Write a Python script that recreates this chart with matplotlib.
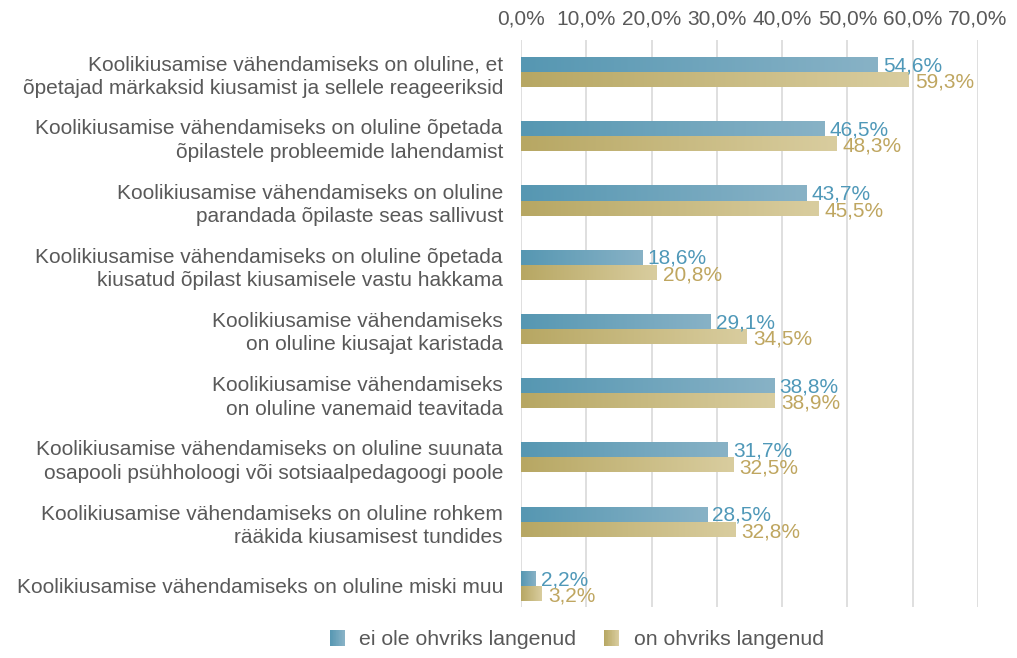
import numpy as np
import matplotlib
matplotlib.use("Agg")
import matplotlib.pyplot as plt
from matplotlib.colors import LinearSegmentedColormap
from matplotlib.patches import Rectangle
from matplotlib.legend_handler import HandlerBase

plt.rcParams['font.family'] = ['Liberation Sans', 'DejaVu Sans']

categories = [
    "Koolikiusamise vähendamiseks on oluline, et\nõpetajad märkaksid kiusamist ja sellele reageeriksid",
    "Koolikiusamise vähendamiseks on oluline õpetada\nõpilastele probleemide lahendamist",
    "Koolikiusamise vähendamiseks on oluline\nparandada õpilaste seas sallivust",
    "Koolikiusamise vähendamiseks on oluline õpetada\nkiusatud õpilast kiusamisele vastu hakkama",
    "Koolikiusamise vähendamiseks\non oluline kiusajat karistada",
    "Koolikiusamise vähendamiseks\non oluline vanemaid teavitada",
    "Koolikiusamise vähendamiseks on oluline suunata\nosapooli psühholoogi või sotsiaalpedagoogi poole",
    "Koolikiusamise vähendamiseks on oluline rohkem\nrääkida kiusamisest tundides",
    "Koolikiusamise vähendamiseks on oluline miski muu",
]
not_victim = [54.6, 46.5, 43.7, 18.6, 29.1, 38.8, 31.7, 28.5, 2.2]
victim = [59.3, 48.3, 45.5, 20.8, 34.5, 38.9, 32.5, 32.8, 3.2]
series_names = ["ei ole ohvriks langenud", "on ohvriks langenud"]
xticks = [0, 10, 20, 30, 40, 50, 60, 70]

blue_cmap = LinearSegmentedColormap.from_list("blue", ["#5697b2", "#88b2c6"])
gold_cmap = LinearSegmentedColormap.from_list("gold", ["#b7a763", "#d9cd9f"])
blue_text = "#4f98b8"
gold_text = "#bfa660"
text_col = "#595959"
FS = 15

fig = plt.figure(figsize=(10.17, 6.58), dpi=100)
ax = fig.add_axes([0.5123, 0.0775, 0.4494, 0.8617])

y = np.arange(len(categories))
h = 0.235
grad = np.linspace(0, 1, 256).reshape(1, -1)


def gradient_bars(values, offsets, cmap):
    bars = ax.barh(offsets, values, height=h, color="none", edgecolor="none", zorder=2)
    for bar in bars:
        x0, y0 = bar.get_x(), bar.get_y()
        w, hh = bar.get_width(), bar.get_height()
        im = ax.imshow(grad, cmap=cmap, aspect="auto",
                       extent=[x0, x0 + w, y0 + hh, y0], zorder=2,
                       interpolation="bilinear")
        im.set_clip_path(bar)
    return bars


gradient_bars(not_victim, y - h / 2, blue_cmap)
gradient_bars(victim, y + h / 2, gold_cmap)

for i, (a, b) in enumerate(zip(not_victim, victim)):
    ax.text(a + 0.8, i - h / 2 + 0.02, f"{a:.1f}%".replace(".", ","), color=blue_text,
            fontsize=FS, va="center", ha="left", zorder=3)
    ax.text(b + 1.0, i + h / 2 + 0.04, f"{b:.1f}%".replace(".", ","), color=gold_text,
            fontsize=FS, va="center", ha="left", zorder=3)

ax.set_xlim(0, 70)
ax.set_ylim(8.33, -0.5)
ax.set_xticks(xticks)
ax.set_xticklabels([f"{t:.1f}%".replace(".", ",") for t in xticks])
ax.xaxis.tick_top()
ax.tick_params(axis="x", length=0, pad=8, labelsize=FS, labelcolor=text_col)
ax.set_yticks(y)
ax.set_yticklabels(categories, linespacing=1.3)
ax.tick_params(axis="y", length=0, pad=13, labelsize=FS, labelcolor=text_col)
ax.grid(axis="x", color="#d9d9d9", linewidth=1.2, zorder=0)
ax.set_axisbelow(True)
for s in ax.spines.values():
    s.set_visible(False)


class GradientSwatch(HandlerBase):
    def __init__(self, cmap, steps=20):
        super().__init__()
        self.cmap = cmap
        self.steps = steps

    def create_artists(self, legend, orig_handle, xdescent, ydescent, width, height,
                       fontsize, trans):
        side = min(width, height)
        y0 = -ydescent + (height - side) / 2
        sw = side / self.steps
        arts = []
        for k in range(self.steps):
            r = Rectangle((-xdescent + k * sw, y0), sw * 1.05, side,
                          facecolor=self.cmap(k / (self.steps - 1)), edgecolor="none",
                          transform=trans)
            arts.append(r)
        return arts


h_blue = Rectangle((0, 0), 1, 1)
h_gold = Rectangle((0, 0), 1, 1)
fig.legend([h_blue, h_gold], series_names, loc="lower center", bbox_to_anchor=(0.567, -0.016),
           ncol=2, frameon=False, fontsize=15.3, handlelength=0.72, handleheight=0.72,
           columnspacing=1.3, handletextpad=0.68, labelcolor=text_col,
           handler_map={h_blue: GradientSwatch(blue_cmap), h_gold: GradientSwatch(gold_cmap)})

fig.savefig("out.png", dpi=100)
